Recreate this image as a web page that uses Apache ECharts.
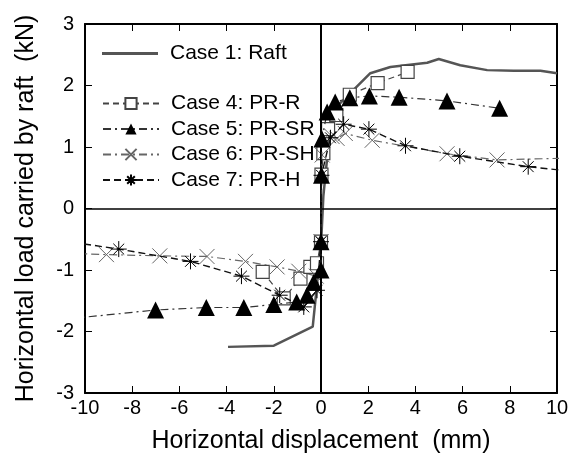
<!DOCTYPE html>
<html><head><meta charset="utf-8">
<script src="https://cdn.jsdelivr.net/npm/echarts@6/dist/echarts.min.js"></script>
<style>html,body{margin:0;padding:0;background:#fff}#c{width:579px;height:459px}</style>
</head><body><div id="c"></div>
<script>
const xTicks = [-10,-8,-6,-4,-2,0,2,4,6,8,10];
const yTicks = [-3,-2,-1,0,1,2,3];
const seriesNames = ['Case 1: Raft','Case 4: PR-R','Case 5: PR-SR','Case 6: PR-SH','Case 7: PR-H'];
const raft = [[-3.94,-2.25],[-2.0,-2.23],[-0.35,-1.92],[0,-0.6],[0.1,0.2],[0.45,1.55],[0.7,1.67],[2.09,2.2],[2.94,2.3],[4.5,2.37],[4.99,2.43],[5.9,2.33],[7.04,2.25],[8.17,2.24],[9.3,2.24],[10,2.2]];
const prR = [[-2.47,-1.03],[-1.58,-1.46],[-0.87,-1.14],[-0.45,-0.95],[-0.17,-0.89],[0,-0.54],[0.02,0.55],[0.1,0.9],[0.3,1.29],[0.65,1.52],[1.22,1.85],[2.4,2.04],[3.67,2.22]];
const prSR = [[-10.6,-1.79],[-7.01,-1.65],[-4.86,-1.61],[-3.27,-1.61],[-2.0,-1.56],[-1.03,-1.52],[-0.59,-1.41],[-0.31,-1.2],[0,-1.0],[0,-0.54],[0.02,0.54],[0.04,1.13],[0.26,1.57],[0.6,1.73],[1.22,1.8],[2.05,1.83],[3.31,1.81],[5.34,1.75],[7.57,1.63]];
const prSH = [[-10.5,-0.73],[-9.09,-0.75],[-6.83,-0.77],[-4.83,-0.78],[-3.2,-0.86],[-1.86,-0.95],[-0.94,-1.02],[-0.2,-1.1],[0,-0.54],[0.05,0.87],[0.47,1.17],[0.68,1.14],[1.03,1.22],[2.17,1.11],[5.34,0.89],[7.46,0.79],[10.5,0.82]];
const prH = [[-10.5,-0.55],[-8.57,-0.66],[-5.53,-0.86],[-3.37,-1.1],[-1.75,-1.41],[-0.73,-1.6],[-0.17,-1.33],[0,-0.54],[0.02,0.54],[0.4,1.15],[0.96,1.37],[2.03,1.29],[3.58,1.02],[5.88,0.85],[8.78,0.68],[10.5,0.61]];

const FONT = '"Liberation Sans", Arial, sans-serif';
const XSYM = 'path://M0,0L10,10M10,0L0,10';
const ASYM = 'path://M5,0L5,10M0,5L10,5M1.6,1.6L8.4,8.4M8.4,1.6L1.6,8.4M4.6,4.6L5.4,4.6L5.4,5.4L4.6,5.4Z';
const chart = echarts.init(document.getElementById('c'), null, {renderer:'canvas'});
const axisCommon = {
  axisLine:{show:true,onZero:false,lineStyle:{color:'#000',width:2}},
  axisTick:{show:true,inside:true,length:7,lineStyle:{color:'#000',width:1}},
  splitLine:{show:false}
};
const legendText = {fontFamily:FONT,fontSize:21,color:'#000',lineHeight:21,padding:[0,0,0,7]};
chart.setOption({
  animation:false,
  backgroundColor:'#fff',
  grid:{left:85,right:22,top:24,bottom:66,show:false},
  legend:[
    {data:[{name:seriesNames[0],icon:'rect'}],orient:'vertical',left:102,top:43,padding:0,itemWidth:56,itemHeight:3,itemGap:4,
     textStyle:legendText},
    {data:seriesNames.slice(1),orient:'vertical',left:102,top:93,padding:0,itemWidth:56,itemHeight:14,itemGap:4.5,
     textStyle:legendText}
  ],
  xAxis:[
    Object.assign({type:'value',min:xTicks[0],max:xTicks[xTicks.length-1],interval:2,position:'bottom',
      name:'Horizontal displacement  (mm)',nameLocation:'middle',nameGap:36,
      nameTextStyle:{fontFamily:FONT,fontSize:25,color:'#000'},
      axisLabel:{fontFamily:FONT,fontSize:20,color:'#000',margin:5}},axisCommon),
    Object.assign({type:'value',min:xTicks[0],max:xTicks[xTicks.length-1],interval:2,position:'top',
      axisLabel:{show:false}},axisCommon)
  ],
  yAxis:[
    Object.assign({type:'value',min:yTicks[0],max:yTicks[yTicks.length-1],interval:1,position:'left',
      name:'Horizontal load carried by raft  (kN)',nameLocation:'middle',nameGap:46,
      nameTextStyle:{fontFamily:FONT,fontSize:25,color:'#000'},
      axisLabel:{fontFamily:FONT,fontSize:20,color:'#000',margin:11}},axisCommon),
    Object.assign({type:'value',min:yTicks[0],max:yTicks[yTicks.length-1],interval:1,position:'right',
      axisLabel:{show:false}},axisCommon)
  ],
  series:[
    {name:seriesNames[0],type:'line',data:raft,showSymbol:false,symbol:'none',clip:true,
     lineStyle:{color:'#555',width:2.5},itemStyle:{color:'#555'},z:3,
     markLine:{silent:true,symbol:'none',label:{show:false},animation:false,
       data:[{xAxis:0,lineStyle:{color:'#000',width:2,type:'solid'}},{yAxis:0,lineStyle:{color:'#000',width:1.5,type:'solid'}}]}},
    {name:seriesNames[1],type:'line',data:prR,symbol:'rect',symbolSize:13,clip:true,
     lineStyle:{color:'#444',width:1.2,type:[6,4]},itemStyle:{color:'#fff',borderColor:'#444',borderWidth:1.2},z:4},
    {name:seriesNames[2],type:'line',data:prSR,symbol:'triangle',symbolSize:17,clip:true,
     lineStyle:{color:'#333',width:1.2,type:[8,4,2,4]},itemStyle:{color:'#000',borderColor:'#000',borderWidth:0},z:5},
    {name:seriesNames[3],type:'line',data:prSH,symbol:XSYM,symbolSize:15,clip:true,
     lineStyle:{color:'#666',width:1.2,type:[8,4,2,4]},itemStyle:{color:'#666',borderColor:'#666',borderWidth:1},z:4},
    {name:seriesNames[4],type:'line',data:prH,symbol:ASYM,symbolSize:16,clip:true,
     lineStyle:{color:'#111',width:1.4,type:[7,4]},itemStyle:{color:'#000',borderColor:'#000',borderWidth:1},z:5}
  ]
});
</script></body></html>
